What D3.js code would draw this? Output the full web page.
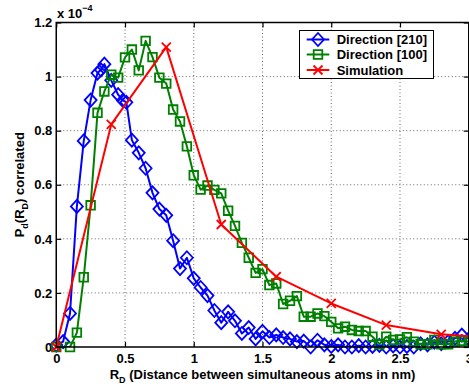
<!DOCTYPE html>
<html>
<head>
<meta charset="utf-8">
<script src="https://cdn.jsdelivr.net/npm/d3@7"></script>
<style>
  html, body { margin: 0; padding: 0; background: #fff; }
  svg { display: block; font-family: "Liberation Sans", Arial, Helvetica, sans-serif; font-weight: bold; }
</style>
</head>
<body>
<div id="chart"></div>
<script>
// P_d(R_D) correlated vs distance, values in units of 1e-4

const xTicks = [0, 0.5, 1, 1.5, 2, 2.5, 3];
const yTicks = [0, 0.2, 0.4, 0.6, 0.8, 1, 1.2];

// Direction [210] (blue diamonds)
const dir210X = [0, 0.05, 0.1, 0.15, 0.2, 0.25, 0.3, 0.325, 0.35, 0.4, 0.45, 0.485, 0.51, 0.55, 0.6, 0.65, 0.7, 0.75, 0.8, 0.85,
  0.9, 0.95, 1.0, 1.05, 1.1, 1.15, 1.2, 1.25, 1.3, 1.35, 1.4, 1.45, 1.5, 1.55, 1.6, 1.65, 1.7, 1.75, 1.8, 1.85,
  1.9, 1.95, 2.0, 2.05, 2.1, 2.15, 2.2, 2.25, 2.3, 2.35, 2.4, 2.45, 2.5, 2.55, 2.6, 2.65, 2.7, 2.75, 2.8, 2.85,
  2.9, 2.95, 3.0];
const dir210Y = [0.007, 0.02, 0.124, 0.52, 0.762, 0.913, 1.013, 1.025, 1.046, 0.986, 0.933, 0.912, 0.905, 0.765, 0.718, 0.661, 0.57, 0.51, 0.487, 0.393,
  0.29, 0.33, 0.254, 0.22, 0.19, 0.135, 0.09, 0.13, 0.097, 0.05, 0.072, 0.03, 0.058, 0.035, 0.045, 0.035, 0.03, 0.02, 0.022, 0.0,
  0.025, 0.008, 0.002, 0.008, 0.0, 0.0, 0.005, 0.0, 0.002, 0.006, 0.0, 0.004, 0.0, 0.002, 0.0, 0.012, 0.008, 0.018, 0.012, 0.02,
  0.032, 0.044, 0.03];

// Direction [100] (green squares)
const dir100X = [0, 0.1, 0.15, 0.2, 0.25, 0.3, 0.35, 0.4, 0.45, 0.5, 0.55, 0.6, 0.65, 0.7, 0.75, 0.8, 0.85, 0.9, 0.95, 1.0,
  1.05, 1.1, 1.15, 1.2, 1.25, 1.3, 1.35, 1.4, 1.45, 1.5, 1.55, 1.6, 1.65, 1.7, 1.75, 1.8, 1.85, 1.9, 1.95, 2.0,
  2.05, 2.1, 2.15, 2.2, 2.25, 2.3, 2.35, 2.4, 2.45, 2.5, 2.55, 2.6, 2.65, 2.7, 2.75, 2.8, 2.85, 2.9, 2.95, 3.0];
const dir100Y = [0, 0, 0.053, 0.258, 0.524, 0.866, 0.945, 1.007, 0.996, 1.071, 1.1, 1.023, 1.132, 1.072, 0.996, 0.974, 0.878, 0.834, 0.742, 0.635,
  0.582, 0.597, 0.581, 0.568, 0.504, 0.448, 0.385, 0.33, 0.274, 0.288, 0.229, 0.235, 0.159, 0.171, 0.188, 0.112, 0.112, 0.124, 0.114, 0.093,
  0.069, 0.075, 0.063, 0.059, 0.059, 0.038, 0.01, 0.038, 0.026, 0.028, 0.036, 0.02, 0.01, 0.01, 0.026, 0.01, 0.01, 0.02, 0.023, 0.02];

// Simulation (red crosses)
const simX = [0, 0.4, 0.8, 1.2, 1.6, 2.0, 2.4, 2.8, 3.2];
const simY = [0, 0.823, 1.109, 0.453, 0.26, 0.161, 0.081, 0.047, 0.033];

const seriesNames = ["Direction [210]", "Direction [100]", "Simulation"];
const seriesColors = ["#0000ff", "#008000", "#ff0000"];
const seriesMarkers = ["diamond", "square", "cross"];

(function () {
  const W = 469, H = 388;
  const m = { l: 56.25, r: 468.75, t: 22.5, b: 347 };

  const svg = d3.select("#chart").append("svg").attr("width", W).attr("height", H);
  const x = d3.scaleLinear().domain([0, 3]).range([m.l, m.r]);
  const y = d3.scaleLinear().domain([0, 1.2]).range([m.b, m.t]);

  svg.append("defs").append("clipPath").attr("id", "plot-clip")
    .append("rect").attr("x", m.l).attr("y", m.t).attr("width", m.r - m.l).attr("height", m.b - m.t);

  // dotted grid
  const grid = svg.append("g").attr("stroke", "#666").attr("stroke-width", 1).attr("stroke-dasharray", "1,2.5");
  grid.selectAll(".gx").data(xTicks.slice(1, -1)).join("line")
    .attr("x1", (d) => x(d)).attr("x2", (d) => x(d)).attr("y1", m.t).attr("y2", m.b);
  grid.selectAll(".gy").data(yTicks.slice(1, -1)).join("line")
    .attr("x1", m.l).attr("x2", m.r).attr("y1", (d) => y(d)).attr("y2", (d) => y(d));

  // axes, ticks pointing inward on all four sides
  const fmt = d3.format("");
  const gb = svg.append("g").attr("transform", `translate(0,${m.b})`)
    .call(d3.axisBottom(x).tickValues(xTicks).tickFormat(fmt).tickSizeInner(-5).tickSizeOuter(0).tickPadding(7));
  const gl = svg.append("g").attr("transform", `translate(${m.l},0)`)
    .call(d3.axisLeft(y).tickValues(yTicks).tickFormat(fmt).tickSizeInner(-5).tickSizeOuter(0).tickPadding(4));
  svg.append("g").attr("transform", `translate(0,${m.t})`)
    .call(d3.axisTop(x).tickValues(xTicks).tickFormat("").tickSizeInner(-5).tickSizeOuter(0));
  svg.append("g").attr("transform", `translate(${m.r},0)`)
    .call(d3.axisRight(y).tickValues(yTicks).tickFormat("").tickSizeInner(-5).tickSizeOuter(0));
  svg.selectAll(".domain").remove();
  svg.selectAll(".tick line").attr("stroke", "#000").attr("stroke-width", 1.2);
  [gb, gl].forEach((g) => g.selectAll("text")
    .attr("fill", "#000").style("font-size", "13px").style("font-weight", "bold")
    .style("font-family", "'Liberation Sans', Arial, sans-serif"));

  // marker shapes
  function markerPath(kind) {
    if (kind === "diamond") return "M0,-6.5L6,0L0,6.5L-6,0Z";
    if (kind === "square") return "M-4.3,-4.3H4.3V4.3H-4.3Z";
    return "M-4.5,-4.5L4.5,4.5M-4.5,4.5L4.5,-4.5";
  }

  const data = [
    { xs: dir210X, ys: dir210Y },
    { xs: dir100X, ys: dir100Y },
    { xs: simX, ys: simY },
  ];

  const line = d3.line().x((d) => x(d[0])).y((d) => y(d[1]));
  data.forEach((s, i) => {
    const pts = s.xs.map((v, k) => [v, s.ys[k]]);
    const col = seriesColors[i];
    svg.append("path").datum(pts).attr("clip-path", "url(#plot-clip)")
      .attr("fill", "none").attr("stroke", col).attr("stroke-width", 2).attr("stroke-linejoin", "round").attr("d", line);
    svg.append("g").selectAll("path").data(pts.filter((p) => p[0] <= 3.0001)).join("path")
      .attr("transform", (d) => `translate(${x(d[0])},${y(d[1])})`)
      .attr("d", markerPath(seriesMarkers[i]))
      .attr("fill", "none").attr("stroke", col).attr("stroke-width", 1.8);
  });

  // axes box
  svg.append("rect").attr("x", m.l).attr("y", m.t).attr("width", m.r - m.l).attr("height", m.b - m.t)
    .attr("fill", "none").attr("stroke", "#000").attr("stroke-width", 1.5);

  // exponent label
  const ex = svg.append("text").attr("x", 57).attr("y", 17.5).attr("fill", "#000").style("font-size", "13px");
  ex.append("tspan").text("x 10");
  ex.append("tspan").attr("dy", -7).style("font-size", "9px").text("\u22124");

  // axis labels
  const xl = svg.append("text").attr("x", (m.l + m.r) / 2).attr("y", 378.5).attr("text-anchor", "middle")
    .attr("fill", "#000").style("font-size", "13px");
  xl.append("tspan").text("R");
  xl.append("tspan").attr("dy", 4).style("font-size", "9px").text("D");
  xl.append("tspan").attr("dy", -4).text(" (Distance between simultaneous atoms in nm)");

  const yl = svg.append("text").attr("transform", `translate(23.5,${(m.t + m.b) / 2}) rotate(-90)`)
    .attr("text-anchor", "middle").attr("fill", "#000").style("font-size", "13px");
  yl.append("tspan").text("P");
  yl.append("tspan").attr("dy", 4).style("font-size", "9px").text("d");
  yl.append("tspan").attr("dy", -4).text("(R");
  yl.append("tspan").attr("dy", 4).style("font-size", "9px").text("D");
  yl.append("tspan").attr("dy", -4).text(") correlated");

  // legend
  const lg = svg.append("g");
  lg.append("rect").attr("x", 299.5).attr("y", 30.5).attr("width", 134).attr("height", 48)
    .attr("fill", "#fff").attr("stroke", "#000").attr("stroke-width", 1);
  const rowY = [39.5, 54.5, 70];
  seriesNames.forEach((name, i) => {
    const yy = rowY[i];
    lg.append("line").attr("x1", 306.7).attr("x2", 329.3).attr("y1", yy).attr("y2", yy)
      .attr("stroke", seriesColors[i]).attr("stroke-width", 2);
    lg.append("path").attr("transform", `translate(318,${yy})`).attr("d", markerPath(seriesMarkers[i]))
      .attr("fill", "none").attr("stroke", seriesColors[i]).attr("stroke-width", 1.8);
    lg.append("text").attr("x", 336.7).attr("y", yy + 4.6).attr("fill", "#000").style("font-size", "13px").text(name);
  });
})();
</script>
</body>
</html>
